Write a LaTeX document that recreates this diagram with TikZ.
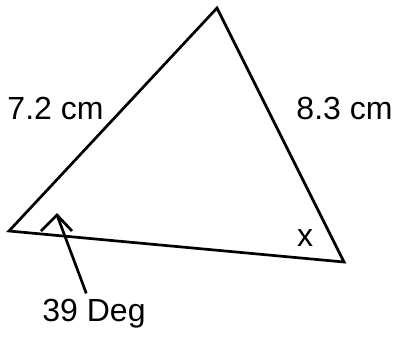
\documentclass[tikz,border=0pt]{standalone}
\usepackage{fontspec}
\setmainfont{Liberation Sans}
\begin{document}
\begin{tikzpicture}[x=1pt,y=-1pt,line width=2.7pt,
  lbl/.style={font=\fontsize{32}{32}\selectfont,inner sep=0pt}]
  \useasboundingbox (0,0) rectangle (395,337);
  \coordinate (A) at (9,231);
  \coordinate (B) at (217,8);
  \coordinate (C) at (344,262);
  \draw (A) -- (B) -- (C) -- cycle;
  \node[lbl] (side-ab) at (55.5,108) {7.2 cm};
  \node[lbl] (side-bc) at (344.5,108) {8.3 cm};
  \node[lbl] (angle-x) at (305,238) {x};
  \node[lbl] (angle-a) at (94,314) {39 Deg};
  \coordinate (tip) at (57,215);
  \draw[shorten <=22pt] (angle-a.center) -- (tip);
  \draw (41,231) -- (tip) -- (72,231);
\end{tikzpicture}
\end{document}
